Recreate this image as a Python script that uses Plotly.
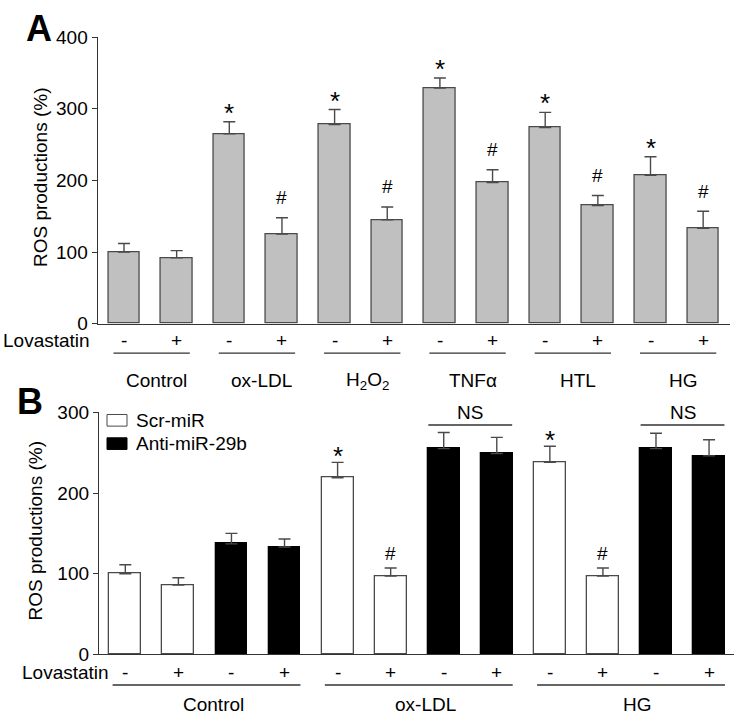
import plotly.graph_objects as go

W, H = 734, 728

# ---------------- data ----------------
groups_A = ["Control", "ox-LDL", "H<sub>2</sub>O<sub>2</sub>", "TNFα", "HTL", "HG"]
lovastatin = ["-", "+"]
values_A = [100, 92, 265, 125, 278, 145, 329, 197, 274, 165, 207, 133]
errors_A = [12, 10, 17, 23, 21, 18, 14, 18, 21, 14, 26, 24]
marks_A = ["", "", "*", "#", "*", "#", "*", "#", "*", "#", "*", "#"]

groups_B = ["Control", "ox-LDL", "HG"]
treatment_B = ["Scr-miR", "Scr-miR", "Anti-miR-29b", "Anti-miR-29b"] * 3
values_B = [100, 86, 137, 133, 219, 97, 255, 249, 238, 97, 255, 246]
errors_B = [11, 9, 13, 10, 19, 10, 20, 20, 20, 10, 19, 20]
marks_B = ["", "", "", "", "*", "#", "", "", "*", "#", "", ""]
ns_pairs_B = [(6, 7), (10, 11)]

yticks_A = [0, 100, 200, 300, 400]
yticks_B = [0, 100, 200, 300]


def px(x):
    return x / W


def py(y):
    return 1 - y / H


FONT = "Liberation Sans, Arial, sans-serif"
EDGE = "#4a4a4a"
AXIS = "#333333"

fig = go.Figure()

idx = list(range(12))

# Panel A bars
fig.add_trace(go.Bar(
    x=idx, y=values_A, width=0.6,
    marker=dict(color="#c0c0c0", line=dict(color=EDGE, width=1.3)),
    error_y=dict(type="data", symmetric=False, array=errors_A,
                 arrayminus=[0] * 12, color=EDGE, thickness=1.4, width=6),
    xaxis="x", yaxis="y", showlegend=False,
))

# Panel B bars
for name, fill in [("Scr-miR", "white"), ("Anti-miR-29b", "black")]:
    xs = [i for i in idx if treatment_B[i] == name]
    fig.add_trace(go.Bar(
        x=xs, y=[values_B[i] for i in xs], width=0.6, name=name,
        marker=dict(color=fill, line=dict(color=EDGE if fill == "white" else "black", width=1.3)),
        error_y=dict(type="data", symmetric=False, array=[errors_B[i] for i in xs],
                     arrayminus=[0] * len(xs), color=EDGE, thickness=1.4, width=6),
        xaxis="x2", yaxis="y2", showlegend=False,
    ))

axis_common = dict(showgrid=False, zeroline=False, showline=True,
                   linecolor=AXIS, linewidth=1.3)

fig.update_layout(
    width=W, height=H,
    margin=dict(l=0, r=0, t=0, b=0),
    paper_bgcolor="white", plot_bgcolor="white",
    font=dict(family=FONT, size=19, color="black"),
    bargap=0,
    hovermode=False,
    xaxis=dict(domain=[px(97.7), px(730)], range=[-0.4996, 11.51],
               showticklabels=False, ticks="", anchor="y", **axis_common),
    yaxis=dict(domain=[py(323), py(28)], range=[0, 400], tickvals=yticks_A,
               ticks="outside", ticklen=5, tickcolor=AXIS, tickwidth=1.3,
               tickfont=dict(size=19, color="black"), anchor="x", **axis_common),
    xaxis2=dict(domain=[px(99), 1.0], range=[-0.496, 11.47],
                showticklabels=False, ticks="", anchor="y2", **axis_common),
    yaxis2=dict(domain=[py(663.5), py(414.3)], range=[0, 300], tickvals=yticks_B,
                ticks="outside", ticklen=5, tickcolor=AXIS, tickwidth=1.3,
                tickfont=dict(size=19, color="black"), anchor="x2", **axis_common),
)

ann = []
shapes = []

# panel letters
ann.append(dict(text="<b>A</b>", x=px(23.5), y=py(19.5), xref="paper", yref="paper",
                xanchor="left", yanchor="middle", showarrow=False, font=dict(size=36)))
ann.append(dict(text="<b>B</b>", x=px(15), y=py(403), xref="paper", yref="paper",
                xanchor="left", yanchor="middle", showarrow=False, font=dict(size=36)))

# y titles
ann.append(dict(text="ROS productions (%)", x=px(40), y=py(172), xref="paper", yref="paper",
                textangle=-90, showarrow=False, xanchor="center", yanchor="middle"))
ann.append(dict(text="ROS productions (%)", x=px(36), y=py(536), xref="paper", yref="paper",
                textangle=-90, showarrow=False, xanchor="center", yanchor="middle"))

# Lovastatin rows
ann.append(dict(text="Lovastatin", x=px(92), y=py(340), xref="paper", yref="paper",
                xanchor="right", yanchor="middle", showarrow=False))
ann.append(dict(text="Lovastatin", x=px(111), y=py(682), xref="paper", yref="paper",
                xanchor="right", yanchor="middle", showarrow=False))
for i in idx:
    ann.append(dict(text=lovastatin[i % 2], x=i, y=py(340), xref="x", yref="paper",
                    xanchor="center", yanchor="middle", showarrow=False))
    ann.append(dict(text=lovastatin[i % 2], x=i, y=py(682), xref="x2", yref="paper",
                    xanchor="center", yanchor="middle", showarrow=False))

# group lines and labels A
for g, name in enumerate(groups_A):
    a, b = 2 * g, 2 * g + 1
    shapes.append(dict(type="line", xref="x", yref="paper", x0=a - 0.2, x1=b + 0.25,
                       y0=py(353.3), y1=py(353.3), line=dict(color=AXIS, width=1.4)))
    ann.append(dict(text=name, x=(a + b) / 2 + 0.12, y=py(382), xref="x", yref="paper",
                    xanchor="center", yanchor="middle", showarrow=False))

# group lines and labels B
for g, name in enumerate(groups_B):
    a, b = 4 * g, 4 * g + 3
    shapes.append(dict(type="line", xref="x2", yref="paper", x0=a - 0.24, x1=b + 0.3,
                       y0=py(695), y1=py(695), line=dict(color=AXIS, width=1.4)))
    ann.append(dict(text=name, x=(a + b) / 2 + 0.16, y=py(715), xref="x2", yref="paper",
                    xanchor="center", yanchor="middle", showarrow=False))

# significance marks
for i in idx:
    if marks_A[i]:
        star = marks_A[i] == "*"
        ann.append(dict(text=marks_A[i], x=i, y=values_A[i] + errors_A[i], xref="x", yref="y",
                        xanchor="center", yanchor="middle", yshift=9 if star else 20,
                        font=dict(size=26 if star else 19), showarrow=False))
    if marks_B[i]:
        star = marks_B[i] == "*"
        ann.append(dict(text=marks_B[i], x=i, y=values_B[i] + errors_B[i], xref="x2", yref="y2",
                        xanchor="center", yanchor="middle", yshift=6 if star else 15,
                        font=dict(size=26 if star else 19), showarrow=False))

# NS brackets
for a, b in ns_pairs_B:
    shapes.append(dict(type="line", xref="x2", yref="paper", x0=a - 0.29, x1=b + 0.29,
                       y0=py(427.3), y1=py(427.3), line=dict(color=AXIS, width=1.4)))
    ann.append(dict(text="NS", x=(a + b) / 2, y=py(414), xref="x2", yref="paper",
                    xanchor="center", yanchor="middle", showarrow=False))

# legend for panel B
for k, (name, fill) in enumerate([("Scr-miR", "white"), ("Anti-miR-29b", "black")]):
    yc = 422.5 + 24 * k
    shapes.append(dict(type="rect", xref="paper", yref="paper",
                       x0=px(107), x1=px(127), y0=py(yc - 6), y1=py(yc + 6),
                       fillcolor=fill, line=dict(color=EDGE if fill == "white" else "black", width=1)))
    ann.append(dict(text=name, x=px(134), y=py(yc), xref="paper", yref="paper",
                    xanchor="left", yanchor="middle", showarrow=False))

fig.update_layout(annotations=ann, shapes=shapes)

post = ("document.documentElement.style.margin='0';document.documentElement.style.padding='0';"
        "document.body.style.margin='0';document.body.style.padding='0';"
        "document.body.style.overflow='hidden';"
        "var gd=document.getElementById('{plot_id}');"
        "gd.style.position='absolute';gd.style.left='0px';gd.style.top='0px';")

fig.write_html("out.html", post_script=post, config={"displayModeBar": False})
